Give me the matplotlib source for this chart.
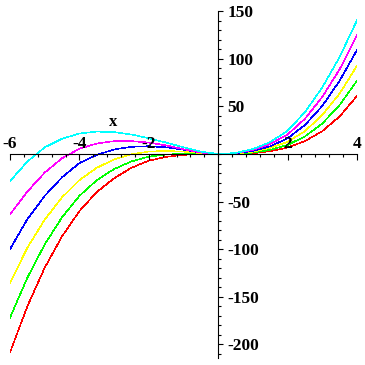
import matplotlib
matplotlib.use("agg")
import matplotlib.pyplot as plt
from matplotlib.ticker import MultipleLocator, FixedLocator

# values, x from -6 to 4 in steps of 0.5
xs = [-6, -5.5, -5, -4.5, -4, -3.5, -3, -2.5, -2, -1.5, -1, -0.5,
      0, 0.5, 1, 1.5, 2, 2.5, 3, 3.5, 4]

red = [-208.5, -160, -119.5, -86.5, -60, -40, -25.5, -14.5, -7, -3, -0.9, -0.1,
       0, 0.1, 0.8, 2.9, 6.8, 13.5, 24, 39.5, 61]
green = [-172, -130, -95, -66.5, -44, -27.5, -15.8, -7.8, -2.8, -0.6, 0.2, 0.2,
         0, 0.3, 1.4, 4.3, 9.5, 18.5, 32, 51.5, 77]
yellow = [-135.5, -98.5, -69, -45.5, -27.5, -14.5, -5.7, -0.3, 2.6, 3.2, 2.5, 1,
          0, 0.5, 2.4, 6.4, 12.8, 24, 41, 63.5, 92.8]
blue = [-100, -68.5, -44, -24.5, -9.5, -1, 4.8, 7.5, 8.2, 7, 4.5, 1.5,
        0, 0.7, 3.2, 8, 16.5, 30.5, 50.5, 77, 109.3]
magenta = [-63.5, -39.5, -19.5, -4.5, 5.5, 11, 13.5, 13.5, 12, 9, 5, 1.5,
           0, 0.9, 4.2, 10.5, 20.5, 37, 60, 89, 125]
cyan = [-28.5, -8, 7, 16, 21.5, 23.5, 23, 20.5, 16.5, 12, 7, 2.5,
        0, 1.1, 5.2, 12.5, 24.5, 44, 70, 102, 140.5]

curves = [(red, "#ff0000"), (green, "#00ff00"), (yellow, "#ffff00"),
          (blue, "#0000ff"), (magenta, "#ff00ff"), (cyan, "#00ffff")]

x_ticks = [-6, -4, -2, 2, 4]
x_labels = ["-6", "-4", "-2", "2", "4"]
y_ticks = [150, 100, 50, -50, -100, -150, -200]
y_labels = ["150", "100", "50", "-50", "-100", "-150", "-200"]

plt.rcParams["font.family"] = "Liberation Serif"
plt.rcParams["font.weight"] = "bold"

fig = plt.figure(figsize=(3.65, 3.65), dpi=100)
ax = fig.add_axes([0.0274, 0.0192, 0.9507, 0.9501])

for vals, col in curves:
    ax.plot(xs, vals, color=col, lw=0.4, antialiased=False, zorder=2)

ax.set_xlim(-6, 4)
ax.set_ylim(-214.3, 150)

ax.spines["left"].set_visible(False)
ax.spines["bottom"].set_visible(False)
ax.spines["top"].set_position(("data", 0))
ax.spines["right"].set_position(("data", 0))
ax.spines["top"].set_linewidth(0.8)
ax.spines["right"].set_linewidth(0.8)
ax.xaxis.tick_top()
ax.yaxis.tick_right()
ax.xaxis.set_zorder(5)
ax.yaxis.set_zorder(5)

ax.xaxis.set_major_locator(FixedLocator(x_ticks))
ax.set_xticklabels(x_labels)
ax.xaxis.set_minor_locator(MultipleLocator(0.4))
ax.yaxis.set_major_locator(FixedLocator(y_ticks))
ax.set_yticklabels(y_labels)
ax.yaxis.set_minor_locator(MultipleLocator(10))

ax.tick_params(axis="x", which="both", direction="in", pad=1.5, labelsize=12.5, width=0.8)
ax.tick_params(axis="x", which="major", length=4)
ax.tick_params(axis="x", which="minor", length=2.5)
ax.tick_params(axis="y", which="both", direction="out", pad=3, labelsize=12.5, width=0.8)
ax.tick_params(axis="y", which="major", length=3.5)
ax.tick_params(axis="y", which="minor", length=2)

ax.text(-3.02, 34, "x", ha="center", va="center", fontsize=12)

fig.savefig("out.png", dpi=100)
